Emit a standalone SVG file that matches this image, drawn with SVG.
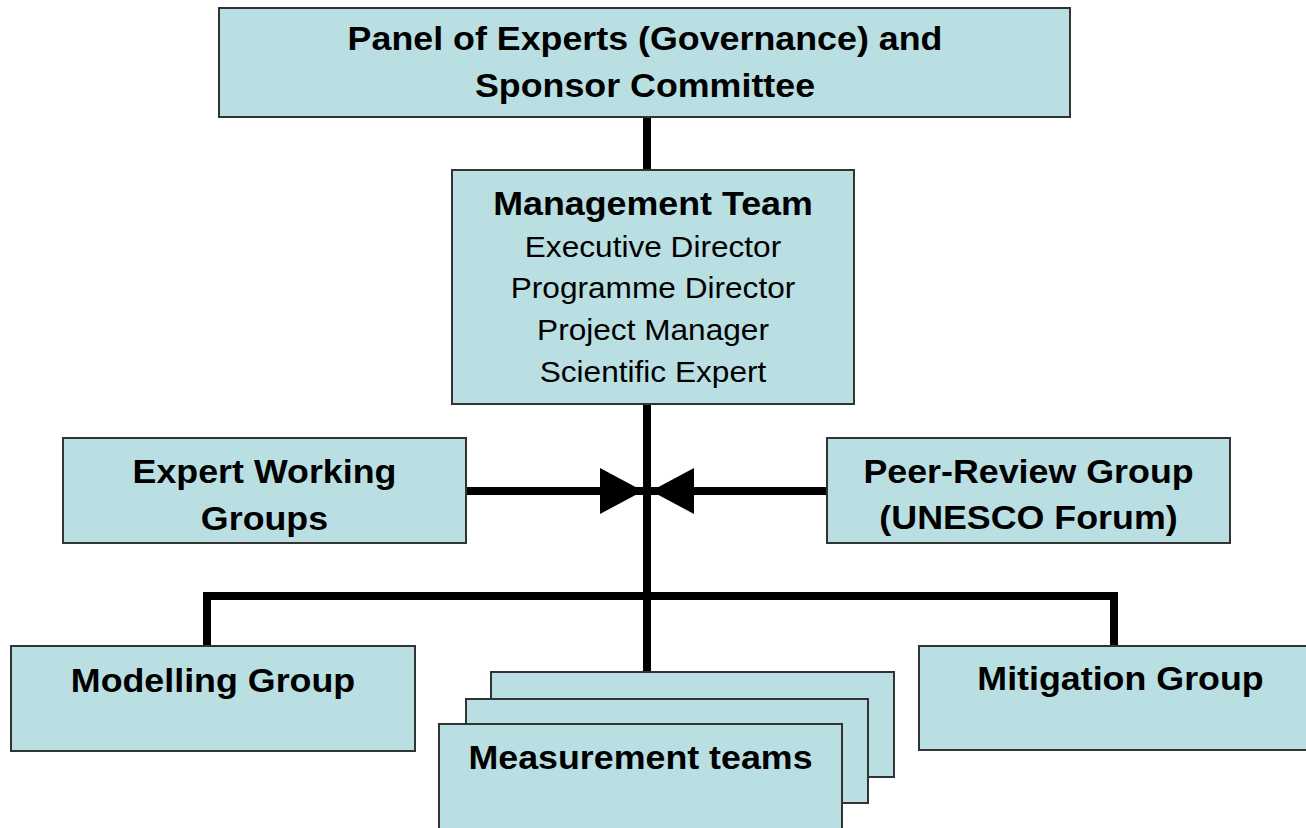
<svg xmlns="http://www.w3.org/2000/svg" width="1306" height="828" viewBox="0 0 1306 828">
<style>
.box{fill:#b9dfe3;stroke:#333;stroke-width:2}
.b{font-family:"Liberation Sans",Arial,sans-serif;font-weight:bold;font-size:33px;fill:#000;text-anchor:middle}
.r{font-family:"Liberation Sans",Arial,sans-serif;font-size:29px;fill:#000;text-anchor:middle}
.ln{fill:none;stroke:#000;stroke-width:8}
</style>
<defs>
<marker id="ah" markerUnits="userSpaceOnUse" markerWidth="44" markerHeight="48" refX="43" refY="23" orient="auto">
<path d="M0,0 L43,23 L0,46 z" fill="#000"/>
</marker>
</defs>
<rect width="1306" height="828" fill="#fff"/>
<g id="connectors">
<line class="ln" x1="647" y1="117" x2="647" y2="170"/>
<line class="ln" x1="647" y1="404" x2="647" y2="672"/>
<line class="ln" x1="466" y1="491" x2="643" y2="491" marker-end="url(#ah)"/>
<line class="ln" x1="827" y1="491" x2="651" y2="491" marker-end="url(#ah)"/>
<path class="ln" d="M207,646 V596 H1114 V646" stroke-width="10"/>
</g>
<g id="panel">
<rect class="box" x="219" y="8" width="851" height="109"/>
<text class="b" transform="translate(645,50) scale(1.085,1)">Panel of Experts (Governance) and</text>
<text class="b" transform="translate(645,97) scale(1.085,1)">Sponsor Committee</text>
</g>
<g id="management">
<rect class="box" x="452" y="170" width="402" height="234"/>
<text class="b" transform="translate(653,215) scale(1.085,1)">Management Team</text>
<text class="r" transform="translate(653,257) scale(1.09,1)">Executive Director</text>
<text class="r" transform="translate(653,298) scale(1.09,1)">Programme Director</text>
<text class="r" transform="translate(653,340) scale(1.09,1)">Project Manager</text>
<text class="r" transform="translate(653,382) scale(1.09,1)">Scientific Expert</text>
</g>
<g id="expert">
<rect class="box" x="63" y="438" width="403" height="105"/>
<text class="b" transform="translate(264.5,483) scale(1.085,1)">Expert Working</text>
<text class="b" transform="translate(264.5,530) scale(1.085,1)">Groups</text>
</g>
<g id="peer">
<rect class="box" x="827" y="438" width="403" height="105"/>
<text class="b" transform="translate(1028.5,483) scale(1.085,1)">Peer-Review Group</text>
<text class="b" transform="translate(1028.5,529) scale(1.085,1)">(UNESCO Forum)</text>
</g>
<g id="modelling">
<rect class="box" x="11" y="646" width="404" height="105"/>
<text class="b" transform="translate(213,692) scale(1.085,1)">Modelling Group</text>
</g>
<g id="mitigation">
<rect class="box" x="919" y="646" width="400" height="104"/>
<text class="b" transform="translate(1120.5,690) scale(1.085,1)">Mitigation Group</text>
</g>
<g id="measurement">
<rect class="box" x="491" y="672" width="403" height="105"/>
<rect class="box" x="466" y="699" width="402" height="104"/>
<rect class="box" x="439" y="724" width="403" height="110"/>
<text class="b" transform="translate(640.5,769) scale(1.085,1)">Measurement teams</text>
</g>
</svg>
